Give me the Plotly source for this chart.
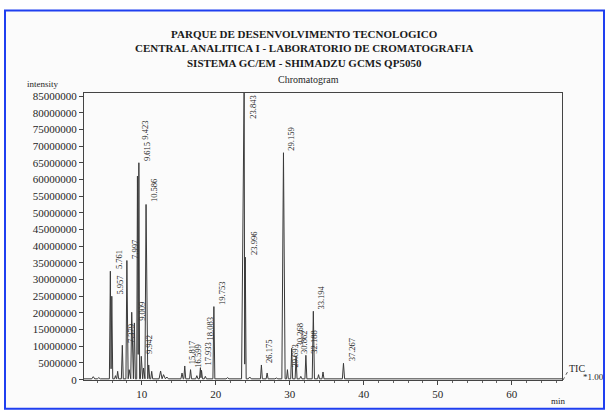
import plotly.graph_objects as go

# ---------------- data ----------------
peak_times = [3.45, 4.2, 5.761, 5.957, 6.45, 6.75, 7.379, 7.997, 8.30, 8.65, 9.009,
              9.423, 9.615, 9.942, 10.25, 10.586, 10.95, 11.35, 12.55, 12.95, 13.4,
              15.45, 15.817, 16.599, 17.45, 17.933, 18.083, 18.6, 19.753, 21.6,
              23.843, 23.996, 24.6, 26.175, 26.95, 28.2, 29.159, 29.693, 30.268,
              30.862, 31.5, 32.188, 33.194, 33.9, 34.5, 37.267, 38.4, 45.0, 52.0]
peak_heights = [0.9e6, 0.6e6, 32.5e6, 25.0e6, 1.2e6, 2.5e6, 10.3e6, 35.7e6, 3.0e6, 20.2e6, 17.0e6,
                61.0e6, 65.0e6, 7.0e6, 3.5e6, 52.5e6, 4.4e6, 2.5e6, 2.6e6, 1.5e6, 0.8e6,
                2.0e6, 4.1e6, 3.0e6, 1.2e6, 3.6e6, 2.8e6, 1.0e6, 21.9e6, 0.6e6,
                88.0e6, 36.7e6, 0.8e6, 4.4e6, 2.0e6, 0.5e6, 68.0e6, 3.0e6, 9.4e6,
                7.0e6, 1.0e6, 7.3e6, 20.5e6, 1.5e6, 2.3e6, 4.9e6, 0.4e6, 0.3e6, 0.4e6]
peak_halfwidths = [0.2, 0.2, 0.13, 0.13, 0.13, 0.13, 0.13, 0.13, 0.13, 0.13, 0.13,
                   0.1, 0.1, 0.12, 0.12, 0.15, 0.13, 0.13, 0.2, 0.2, 0.2,
                   0.15, 0.13, 0.13, 0.15, 0.13, 0.13, 0.15, 0.13, 0.2,
                   0.35, 0.12, 0.2, 0.13, 0.13, 0.2, 0.22, 0.12, 0.13,
                   0.13, 0.15, 0.13, 0.15, 0.13, 0.13, 0.15, 0.2, 0.3, 0.3]
peak_labels = ['', '', '5.761', '5.957', '', '', '7.379', '7.997', '', '', '9.009',
               '9.423', '9.615', '9.942', '', '10.586', '', '', '', '', '',
               '', '15.817', '16.599', '', '17.933', '18.083', '', '19.753', '',
               '23.843', '23.996', '', '26.175', '', '', '29.159', '29.693', '30.268',
               '30.862', '', '32.188', '33.194', '', '', '37.267', '', '', '']
baseline_level = 0.25e6

x_range = [2.2, 66.8]
x_ticks = [10, 20, 30, 40, 50, 60]
y_ticks = [0, 5e6, 10e6, 15e6, 20e6, 25e6, 30e6, 35e6, 40e6, 45e6, 50e6, 55e6,
           60e6, 65e6, 70e6, 75e6, 80e6, 85e6]
y_tick_labels = ['0', '5000000', '10000000', '15000000', '20000000', '25000000',
                 '30000000', '35000000', '40000000', '45000000', '50000000',
                 '55000000', '60000000', '65000000', '70000000', '75000000',
                 '80000000', '85000000']
y_range = [-0.1e6, 85.9e6]

title_lines = ['PARQUE DE DESENVOLVIMENTO TECNOLOGICO',
               'CENTRAL ANALITICA I - LABORATORIO DE CROMATOGRAFIA',
               'SISTEMA GC/EM - SHIMADZU GCMS QP5050']

# ---------------- build the polyline through the peak apexes ----------------
xs, ys = [x_range[0]], [baseline_level]
prev = None
for t, h, w in zip(peak_times, peak_heights, peak_halfwidths):
    left, right = t - w, t + w
    if prev is not None and left < prev[0] + prev[2]:
        xs[-1] = (prev[0] + t) / 2
        ys[-1] = baseline_level + 0.12 * min(prev[1], h)
    else:
        xs.append(left); ys.append(baseline_level)
    xs.append(t); ys.append(h)
    xs.append(right); ys.append(baseline_level)
    prev = (t, h, w)
xs.append(x_range[1]); ys.append(baseline_level)

# ---------------- geometry helpers ----------------
L, R, T, B = 84, 562, 93, 382
W, H = R - L, B - T
def px(x): return (x - L) / W
def py(y): return (B - y) / H
def data_to_px_y(v): return B - (v - y_range[0]) / (y_range[1] - y_range[0]) * H
def data_to_px_x(t): return L + (t - x_range[0]) / (x_range[1] - x_range[0]) * W

ink = '#262626'
serif = 'Liberation Serif'

fig = go.Figure()
fig.add_trace(go.Scatter(x=xs, y=ys, mode='lines',
                         line=dict(color='#3a3a3a', width=1), hoverinfo='skip'))

# ---------------- peak labels (rotated, stacked if colliding) ----------------
label_fs = 8.5
placed = []
order = sorted([i for i, s in enumerate(peak_labels) if s], key=lambda i: -peak_heights[i])
for i in order:
    t, h, s = peak_times[i], peak_heights[i], peak_labels[i]
    length = (sum(0.25 if c == '.' else 0.5 for c in s)) * label_fs + 2
    xp = data_to_px_x(t)
    if h > y_range[1]:
        fig.add_annotation(x=t, y=y_range[1], xref='x', yref='y', text=s, textangle=-90,
                           showarrow=False, xanchor='left', yanchor='top', xshift=1, yshift=-1,
                           font=dict(family=serif, size=label_fs, color=ink))
        continue
    yb = data_to_px_y(h)
    moved = True
    while moved:
        moved = False
        for (pxx, pb, pt) in placed:
            if abs(pxx - xp) < 4 and not (yb - length >= pb or yb <= pt):
                yb = pt
                moved = True
    placed.append((xp, yb, yb - length))
    fig.add_annotation(x=t, y=py(yb), xref='x', yref='paper', text=s, textangle=-90,
                       showarrow=False, xanchor='left', yanchor='bottom', xshift=1,
                       font=dict(family=serif, size=label_fs, color=ink))

# ---------------- header texts ----------------
fig.add_annotation(x=px(304), y=py(48), xref='paper', yref='paper',
                   text='<br>'.join('<b>%s</b>' % s for s in title_lines),
                   showarrow=False, xanchor='center', yanchor='middle', align='center',
                   borderpad=0, font=dict(family=serif, size=11, color='#1a1a1a'))
fig.add_annotation(x=px(308), y=py(79), xref='paper', yref='paper', text='Chromatogram',
                   showarrow=False, xanchor='center', yanchor='middle', borderpad=0,
                   font=dict(family=serif, size=10, color=ink))
fig.add_annotation(x=px(26), y=py(84), xref='paper', yref='paper', text='intensity',
                   showarrow=False, xanchor='left', yanchor='middle', borderpad=0,
                   font=dict(family=serif, size=9, color=ink))
fig.add_annotation(x=px(568), y=py(370), xref='paper', yref='paper', text='TIC',
                   showarrow=False, xanchor='left', yanchor='middle', borderpad=0,
                   font=dict(family=serif, size=10, color=ink))
fig.add_annotation(x=px(582), y=py(379), xref='paper', yref='paper', text='*1.00',
                   showarrow=False, xanchor='left', yanchor='middle', borderpad=0,
                   font=dict(family=serif, size=9, color=ink))
fig.add_annotation(x=px(558), y=py(403), xref='paper', yref='paper', text='min',
                   showarrow=False, xanchor='center', yanchor='middle', borderpad=0,
                   font=dict(family=serif, size=9, color=ink))

# ---------------- frame and decorations ----------------
fig.add_shape(type='rect', xref='paper', yref='paper',
              x0=px(5), x1=px(604), y0=py(411), y1=py(10),
              line=dict(color='#1f3ff0', width=2), fillcolor='#fbfbfb', layer='below')
fig.add_shape(type='line', xref='paper', yref='paper',
              x0=px(563), y0=py(382), x1=px(568), y1=py(373),
              line=dict(color='#555', width=1, dash='dot'))

axis_common = dict(showline=True, linecolor='#444', linewidth=1, mirror=True,
                   showgrid=False, zeroline=False, ticks='outside', ticklen=4,
                   tickcolor='#444', tickfont=dict(family=serif, size=11, color=ink))
fig.update_xaxes(range=x_range, tickvals=x_ticks, ticktext=[str(v) for v in x_ticks],
                 minor=dict(dtick=2, tick0=0, ticks='outside', ticklen=2, tickcolor='#666'),
                 **axis_common)
fig.update_yaxes(range=y_range, tickvals=y_ticks, ticktext=y_tick_labels, **axis_common)

fig.update_layout(width=608, height=412, margin=dict(l=L, r=608 - R, t=T, b=412 - B),
                  paper_bgcolor='white', plot_bgcolor='rgba(0,0,0,0)', showlegend=False,
                  font=dict(family=serif, color=ink))

fig.write_html('out.html')
